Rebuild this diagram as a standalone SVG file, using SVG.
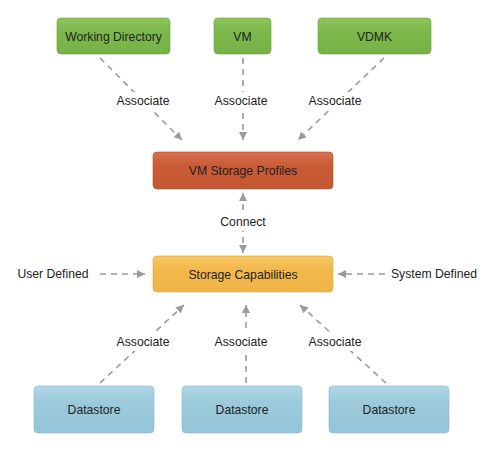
<svg xmlns="http://www.w3.org/2000/svg" width="500" height="455" viewBox="0 0 500 455">
<style>
text{font-family:"Liberation Sans",Arial,sans-serif;font-size:12.2px;fill:#222;text-anchor:middle;dominant-baseline:central}
.c{stroke:#9a9a9a;stroke-width:1.6;stroke-dasharray:6 5;fill:none}
.g{fill:url(#gg);stroke:#6a9e3c;stroke-width:0.6}
.r{fill:url(#gr);stroke:#b24e2b;stroke-width:0.6}
.y{fill:url(#gy);stroke:#e0a53a;stroke-width:0.6}
.b{fill:url(#gb);stroke:#86b8cc;stroke-width:0.6}
</style>
<defs>
<linearGradient id="gg" x1="0" y1="0" x2="0" y2="1"><stop offset="0" stop-color="#8fc55e"/><stop offset="0.35" stop-color="#7db84c"/><stop offset="1" stop-color="#77b246"/></linearGradient>
<linearGradient id="gr" x1="0" y1="0" x2="0" y2="1"><stop offset="0" stop-color="#d87350"/><stop offset="0.35" stop-color="#c95c37"/><stop offset="1" stop-color="#c55733"/></linearGradient>
<linearGradient id="gy" x1="0" y1="0" x2="0" y2="1"><stop offset="0" stop-color="#f7c766"/><stop offset="0.35" stop-color="#f3b84c"/><stop offset="1" stop-color="#f0b447"/></linearGradient>
<linearGradient id="gb" x1="0" y1="0" x2="0" y2="1"><stop offset="0" stop-color="#b0d8e6"/><stop offset="0.35" stop-color="#9bcadb"/><stop offset="1" stop-color="#94c5d8"/></linearGradient>
<marker id="a" viewBox="0 0 10 10" refX="10" refY="5" markerWidth="8" markerHeight="8" markerUnits="userSpaceOnUse" orient="auto-start-reverse"><path d="M0,0L10,5L0,10z" fill="#9a9a9a"/></marker>
</defs>
<g id="connectors">
<path class="c" d="M100,58L182,140" marker-end="url(#a)"/>
<path class="c" d="M243,58V140" marker-end="url(#a)"/>
<path class="c" d="M384,58L298,140" marker-end="url(#a)"/>
<path class="c" d="M243,193V253" marker-start="url(#a)" marker-end="url(#a)"/>
<path class="c" d="M100,274H145" marker-end="url(#a)"/>
<path class="c" d="M385,274H338" marker-end="url(#a)"/>
<path class="c" d="M100,383L184,305" marker-end="url(#a)"/>
<path class="c" d="M246,383V305" marker-end="url(#a)"/>
<path class="c" d="M386,383L300,305" marker-end="url(#a)"/>
<rect x="110" y="92" width="66" height="18" fill="#fff"/>
<rect x="208" y="92" width="66" height="18" fill="#fff"/>
<rect x="302" y="92" width="66" height="18" fill="#fff"/>
<rect x="214" y="213" width="58" height="18" fill="#fff"/>
<rect x="110" y="333" width="66" height="18" fill="#fff"/>
<rect x="208" y="333" width="66" height="18" fill="#fff"/>
<rect x="302" y="333" width="66" height="18" fill="#fff"/>
<text x="143" y="101">Associate</text>
<text x="241" y="101">Associate</text>
<text x="335" y="101">Associate</text>
<text x="243" y="222">Connect</text>
<text x="143" y="342">Associate</text>
<text x="241" y="342">Associate</text>
<text x="335" y="342">Associate</text>
<text x="53" y="274">User Defined</text>
<text x="434" y="274">System Defined</text>
</g>
<g id="n-workdir"><rect class="g" x="57" y="18" width="113" height="36" rx="4"/><text x="113.5" y="36.5">Working Directory</text></g>
<g id="n-vm"><rect class="g" x="214" y="18" width="57" height="36" rx="4"/><text x="242.5" y="36.5">VM</text></g>
<g id="n-vdmk"><rect class="g" x="318" y="18" width="113" height="36" rx="4"/><text x="374.5" y="36.5">VDMK</text></g>
<g id="n-profiles"><rect class="r" x="153" y="152" width="180" height="37" rx="4"/><text x="243" y="171">VM Storage Profiles</text></g>
<g id="n-capabilities"><rect class="y" x="153" y="256" width="180" height="36" rx="4"/><text x="243" y="274.5">Storage Capabilities</text></g>
<g id="n-ds1"><rect class="b" x="34" y="386" width="120" height="47" rx="4"/><text x="94" y="410">Datastore</text></g>
<g id="n-ds2"><rect class="b" x="182" y="386" width="120" height="47" rx="4"/><text x="242" y="410">Datastore</text></g>
<g id="n-ds3"><rect class="b" x="329" y="386" width="120" height="47" rx="4"/><text x="389" y="410">Datastore</text></g>
</svg>
